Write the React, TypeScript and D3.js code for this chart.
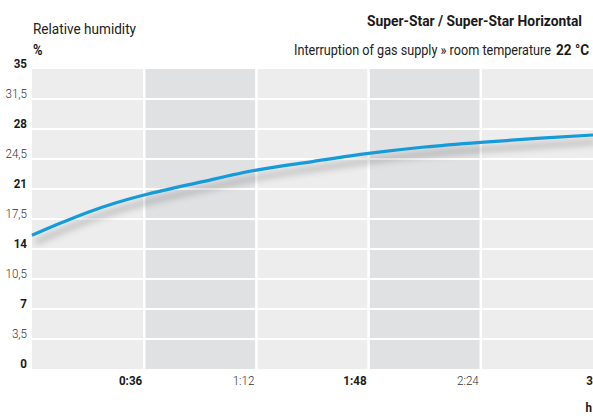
import React, { useLayoutEffect, useRef } from "react";
import * as d3 from "d3";

const hours = [0, 0.15, 0.3, 0.45, 0.6, 0.9, 1.2, 1.5, 1.8, 2.1, 2.4, 2.7, 3.0];
const humidity = [15.6, 17.0, 18.3, 19.4, 20.3, 21.8, 23.2, 24.2, 25.15, 25.9, 26.45, 26.9, 27.3];
const xTicks = [0.6, 1.2, 1.8, 2.4, 3.0];
const xTickLabels = ["0:36", "1:12", "1:48", "2:24", "3"];
const xTickBold = [true, false, true, false, true];
const yTicks = [0, 3.5, 7, 10.5, 14, 17.5, 21, 24.5, 28, 31.5, 35];
const yTickLabels = ["0", "3,5", "7", "10,5", "14", "17,5", "21", "24,5", "28", "31,5", "35"];

const W = 593;
const H = 418;
const left = 32;
const right = 593;
const top = 69;
const bottom = 369;
const FONT = '"Roboto", "DejaVu Sans Condensed", sans-serif';
const TICK_SX = 0.86;

function CText(props: {
  x: number;
  y: number;
  sx?: number;
  width?: number;
  anchor?: string;
  size: number;
  weight?: number;
  fill?: string;
  children: React.ReactNode;
}) {
  const { x, y, sx = TICK_SX, width, anchor = "start", size, weight = 400, fill = "#1a1a1a", children } = props;
  const ref = useRef<SVGTextElement>(null);
  useLayoutEffect(() => {
    if (width && ref.current) {
      const natural = ref.current.getComputedTextLength();
      if (natural > 0) {
        ref.current.setAttribute("transform", `translate(${x},${y}) scale(${width / natural},1)`);
      }
    }
  }, [x, y, width]);
  return (
    <text
      ref={ref}
      transform={`translate(${x},${y}) scale(${sx},1)`}
      textAnchor={anchor}
      fontSize={size}
      fontWeight={weight}
      fill={fill}
    >
      {children}
    </text>
  );
}

export default function App() {
  const x = d3.scaleLinear().domain([0, 3]).range([left, right]);
  const y = d3.scaleLinear().domain([0, 35]).range([bottom, top]);
  const line = d3
    .line<number>()
    .x((_, i) => x(hours[i]))
    .y((d) => y(d))
    .curve(d3.curveMonotoneX);
  const path = line(humidity) || "";
  const colEdges = [0, ...xTicks];

  return (
    <svg
      width={W}
      height={H}
      style={{ position: "absolute", left: 0, top: 0, display: "block", background: "#fff" }}
      fontFamily={FONT}
    >
      <defs>
        <filter id="shadow" x="-10%" y="-50%" width="120%" height="200%">
          <feGaussianBlur stdDeviation="3.5" />
        </filter>
        <clipPath id="plotclip">
          <rect x={left} y={top} width={right - left} height={bottom - top} />
        </clipPath>
      </defs>
      {colEdges.slice(0, -1).map((t, i) => (
        <rect
          key={"c" + i}
          x={x(t)}
          y={top}
          width={x(colEdges[i + 1]) - x(t)}
          height={bottom - top}
          fill={i % 2 === 1 ? "#e0e1e3" : "#ecedec"}
        />
      ))}
      {yTicks.slice(1, -1).map((t, i) => (
        <line key={"h" + i} x1={left} x2={right} y1={y(t)} y2={y(t)} stroke="#fff" strokeWidth={2} />
      ))}
      {xTicks.slice(0, -1).map((t, i) => (
        <line key={"v" + i} x1={x(t)} x2={x(t)} y1={top} y2={bottom} stroke="#fff" strokeWidth={2.5} />
      ))}
      <g clipPath="url(#plotclip)">
        <path
          d={path}
          fill="none"
          stroke="#000"
          strokeOpacity={0.28}
          strokeWidth={4}
          filter="url(#shadow)"
          transform="translate(3,7)"
        />
      </g>
      <path d={path} fill="none" stroke="#159bd9" strokeWidth={3.2} strokeLinecap="butt" />
      {yTicks.map((t, i) => {
        const bold = i % 2 === 0;
        return (
          <CText
            key={"yl" + i}
            x={27}
            y={y(t) - 1}
            anchor="end"
            size={13.5}
            weight={bold ? 700 : 300}
            fill={bold ? "#1a1a1a" : "#333"}
          >
            {yTickLabels[i]}
          </CText>
        );
      })}
      {xTicks.map((t, i) => (
        <CText
          key={"xl" + i}
          x={x(t) - (i === xTicks.length - 1 ? 0 : 2)}
          y={385}
          anchor="end"
          size={13.5}
          weight={xTickBold[i] ? 700 : 300}
          fill={xTickBold[i] ? "#1a1a1a" : "#333"}
        >
          {xTickLabels[i]}
        </CText>
      ))}
      <CText x={592} y={412} anchor="end" size={13.5} weight={700}>
        h
      </CText>
      <CText x={33} y={34} size={15.5} fill="#222" width={103}>
        Relative humidity
      </CText>
      <CText x={33} y={55} size={15} weight={700}>
        %
      </CText>
      <CText x={367} y={26} size={15} weight={700} width={215}>
        Super-Star / Super-Star Horizontal
      </CText>
      <CText x={294} y={55} size={15.5} fill="#222" width={257}>
        Interruption of gas supply » room temperature
      </CText>
      <CText x={556} y={55} size={15.5} weight={700} width={33}>
        22 °C
      </CText>
    </svg>
  );
}
